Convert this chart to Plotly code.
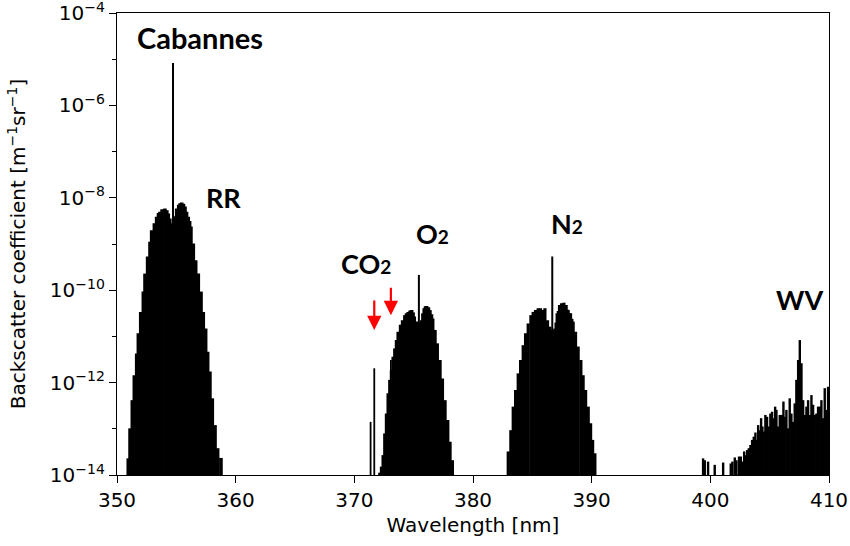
import plotly.graph_objects as go

# ---------------- data (wavelength in nm, log10 of backscatter coefficient) -------------
rr_wl = [350.95, 351.10, 351.29, 351.46, 351.66, 351.80, 352.00, 352.22, 352.36, 352.58,
         352.78, 352.92, 353.15, 353.34, 353.50, 353.62, 353.80, 354.04, 354.20, 354.32,
         354.45, 354.52, 354.62, 354.80, 354.90, 355.03, 355.20, 355.32, 355.45, 355.60,
         355.73, 355.86, 356.00, 356.12, 356.23, 356.43, 356.63, 356.85, 357.08, 357.27,
         357.47, 357.64, 357.83, 358.03, 358.26, 358.48, 358.76]
rr_log = [-13.64, -12.99, -12.38, -11.84, -11.37, -10.93, -10.47, -10.03, -9.64, -9.27,
          -8.95, -8.70, -8.55, -8.41, -8.33, -8.30, -8.25, -8.23, -8.27, -8.34,
          -8.45, -8.55, -8.62, -8.60, -8.40, -8.23, -8.15, -8.12, -8.10, -8.13,
          -8.19, -8.30, -8.41, -8.50, -8.62, -8.99, -9.35, -9.64, -10.03, -10.47,
          -10.83, -11.33, -11.76, -12.34, -12.92, -13.42, -13.63]

o2_wl = [372.16, 372.30, 372.44, 372.58, 372.72, 372.86, 373.00, 373.14, 373.28, 373.42,
         373.56, 373.70, 373.90, 374.07, 374.26, 374.40, 374.54, 374.70, 374.83, 374.95,
         375.05, 375.25, 375.35, 375.55, 375.67, 375.78, 375.89, 376.00, 376.09, 376.24,
         376.37, 376.50, 376.60, 376.79, 376.98, 377.21, 377.41, 377.63, 377.86, 378.05,
         378.25]
o2_log = [-13.95, -13.82, -13.57, -13.10, -12.67, -12.23, -11.94, -11.73, -11.44, -11.26,
          -11.08, -10.90, -10.75, -10.65, -10.54, -10.50, -10.47, -10.44, -10.43, -10.48,
          -10.57, -10.68, -10.70, -10.70, -10.65, -10.50, -10.39, -10.35, -10.34, -10.37,
          -10.43, -10.52, -10.61, -10.86, -11.15, -11.51, -11.91, -12.38, -12.81, -13.28,
          -13.68]

n2_wl = [382.97, 383.19, 383.39, 383.59, 383.81, 384.01, 384.23, 384.43, 384.65, 384.88,
         385.07, 385.17, 385.27, 385.38, 385.49, 385.59, 385.69, 385.78, 385.86, 385.96,
         386.06, 386.17, 386.28, 386.38, 386.48, 386.58, 386.78, 386.90, 387.00, 387.09,
         387.19, 387.29, 387.38, 387.46, 387.56, 387.66, 387.76, 387.85, 387.94, 388.02,
         388.12, 388.22, 388.33, 388.44, 388.64, 388.86, 389.09, 389.28, 389.49, 389.71,
         389.91, 390.08, 390.27]
n2_log = [-13.49, -13.03, -12.52, -12.16, -11.80, -11.51, -11.19, -10.93, -10.72, -10.54,
          -10.47, -10.70, -10.43, -10.68, -10.39, -10.66, -10.39, -10.66, -10.43, -10.70,
          -10.39, -10.75, -10.65, -10.82, -10.79, -10.86, -10.86, -10.83, -10.70, -10.50,
          -10.45, -10.32, -10.40, -10.28, -10.40, -10.27, -10.38, -10.32, -10.42, -10.43,
          -10.50, -10.50, -10.62, -10.68, -10.90, -11.22, -11.51, -11.84, -12.16, -12.52,
          -12.88, -13.24, -13.53]

wv_wl = [399.39, 399.53, 399.81, 400.37, 401.08, 401.72, 401.86, 402.06, 402.20, 402.42,
         402.57, 402.68, 402.85, 402.96, 403.10, 403.24, 403.38, 403.52, 403.66, 403.80,
         403.91, 404.03, 404.17, 404.28, 404.39, 404.50, 404.64, 404.78, 404.92, 405.06,
         405.20, 405.35, 405.46, 405.57, 405.71, 405.85, 405.96, 406.08, 406.16, 406.27,
         406.41, 406.55, 406.69, 406.83, 406.97, 407.11, 407.25, 407.40, 407.54, 407.68,
         407.82, 407.96, 408.10, 408.24, 408.38, 408.52, 408.66, 408.80, 408.94, 409.08,
         409.22, 409.36, 409.50, 409.64, 409.78, 409.92]
wv_log = [-13.64, -13.68, -13.71, -13.78, -13.73, -13.75, -13.71, -13.62, -13.68, -13.60,
          -13.60, -13.71, -13.49, -13.57, -13.46, -13.42, -13.35, -13.24, -13.17, -13.08,
          -13.24, -12.92, -13.03, -12.77, -12.95, -13.06, -12.70, -12.74, -12.95, -12.67,
          -12.63, -12.77, -12.52, -12.59, -12.95, -12.70, -12.70, -12.70, -12.41, -12.74,
          -12.59, -12.99, -12.34, -12.67, -12.85, -12.45, -11.94, -11.51, -11.08, -11.58,
          -12.38, -12.70, -12.52, -12.38, -12.70, -12.27, -12.48, -12.70, -12.67, -12.52,
          -12.52, -12.38, -12.77, -12.12, -12.59, -12.09]

# single strong lines: Cabannes, O2 Q-branch, N2 Q-branch, CO2 lines
peak_wl = [354.72, 375.44, 386.68]
peak_log = [-5.08, -9.67, -9.27]
co2_wl = [371.37, 371.68, 373.08]
co2_log = [-12.85, -11.69, -11.51]

x_ticks = [350, 360, 370, 380, 390, 400, 410]
y_exps = [-14, -12, -10, -8, -6, -4]
y_minor_exps = [-13, -11, -9, -7, -5]

FLOOR = 1e-15


def sticks(wl, logs):
    xs, ys = [], []
    for w, l in zip(wl, logs):
        xs += [w, w, None]
        ys += [FLOOR, 10 ** l, None]
    return xs, ys


fig = go.Figure()
for wl, lg, width in [(rr_wl, rr_log, 3.6), (o2_wl, o2_log, 3.6), (n2_wl, n2_log, 3.2),
                      (wv_wl, wv_log, 2.4), (peak_wl, peak_log, 2.0), (co2_wl, co2_log, 1.8)]:
    xs, ys = sticks(wl, lg)
    fig.add_trace(go.Scatter(x=xs, y=ys, mode="lines", line=dict(color="black", width=width),
                             hoverinfo="skip", showlegend=False))

SUB = "<span style='font-size:19px'>2</span>"
labels = [("<b>Cabannes</b>", 356.99, -4.54, 29), ("<b>RR</b>", 359.01, -8.00, 27),
          ("<b>CO" + SUB + "</b>", 370.98, -9.43, 27), ("<b>O" + SUB + "</b>", 376.62, -8.78, 27),
          ("<b>N" + SUB + "</b>", 387.91, -8.55, 27), ("<b>WV</b>", 407.54, -10.21, 27)]
for txt, x, y, sz in labels:
    fig.add_annotation(x=x, y=y, xref="x", yref="y", text=txt, showarrow=False,
                       font=dict(family="Lato, 'Open Sans', sans-serif", size=sz, color="black"),
                       xanchor="center", yanchor="middle")

for x, y, ay in [(371.68, -10.86, -31), (373.08, -10.54, -29)]:
    fig.add_annotation(x=x, y=y, xref="x", yref="y", text="", showarrow=True,
                       ax=0, ay=ay, arrowcolor="red", arrowwidth=2.2, arrowhead=2,
                       arrowsize=1.3)

tick_font = dict(family="DejaVu Sans", size=20, color="black")
fig.update_layout(
    width=850, height=546,
    margin=dict(l=117, r=21, t=13, b=71, autoexpand=False),
    plot_bgcolor="white", paper_bgcolor="white",
    showlegend=False,
)
fig.update_xaxes(
    range=[350, 410], tickvals=x_ticks, ticktext=[str(t) for t in x_ticks],
    ticks="outside", ticklen=7, tickwidth=1.3, tickcolor="black",
    showline=True, linecolor="black", linewidth=1.3, mirror=True, automargin=False,
    ticklabeloverflow="allow",
    showgrid=False, zeroline=False, tickfont=tick_font,
    title=dict(text="Wavelength [nm]", font=tick_font, standoff=6),
)
fig.update_yaxes(
    type="log", range=[-14, -4],
    tickvals=[10.0 ** e for e in y_exps],
    ticktext=["10<sup>−%d</sup>" % (-e) for e in y_exps],
    ticks="outside", ticklen=7, tickwidth=1.3, tickcolor="black",
    minor=dict(tickvals=[10.0 ** e for e in y_minor_exps], ticks="outside", ticklen=4,
               tickwidth=1.1, tickcolor="black", showgrid=False),
    showline=True, linecolor="black", linewidth=1.3, mirror=True, automargin=False,
    ticklabeloverflow="allow",
    showgrid=False, zeroline=False, tickfont=tick_font,
    title=dict(text="Backscatter coefficient [m<sup>−1</sup>sr<sup>−1</sup>]", font=tick_font,
               standoff=18),
)

fig.write_html("out.html", config={"displayModeBar": False},
               post_script="document.body.style.margin='0px';")
